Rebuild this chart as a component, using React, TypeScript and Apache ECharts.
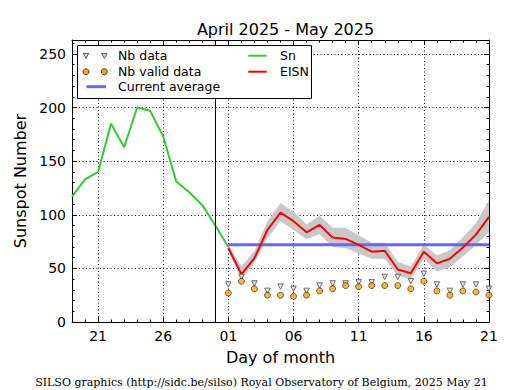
import React, { useEffect, useRef } from "react";
import * as echarts from "echarts";

// ---------- data ----------
const days = [
  "04-19", "04-20", "04-21", "04-22", "04-23", "04-24", "04-25", "04-26", "04-27", "04-28", "04-29", "04-30",
  "05-01", "05-02", "05-03", "05-04", "05-05", "05-06", "05-07", "05-08", "05-09", "05-10", "05-11",
  "05-12", "05-13", "05-14", "05-15", "05-16", "05-17", "05-18", "05-19", "05-20", "05-21",
];
const majorTickDays = ["04-21", "04-26", "05-01", "05-06", "05-11", "05-16", "05-21"];
const separatorDay = "04-30";

// Sn: 04-19 .. 05-01
const snStart = "04-19";
const snValues = [117, 133, 140, 185, 163, 200, 197, 173, 131, 121, 109, 90, 70];

// EISN & counts: 05-01 .. 05-21
const eisnStart = "05-01";
const eisnValues = [69, 44.5, 59.5, 86, 102, 94, 83.7, 90.5, 78.7, 77.5, 72, 65.6, 66.5, 49, 45.4, 65.6, 54.7, 59, 69.5, 81.5, 98];
const eisnLower = [66, 40, 55, 78, 94, 86, 77, 82, 70, 69, 64, 59, 59, 43, 40, 59, 47, 51, 61, 72, 84];
const eisnUpper = [72, 52, 66, 94, 111, 103, 91, 99, 88, 88, 81, 74, 74, 56, 52, 72, 62, 67, 79, 92, 114];
const nbData = [35, 42, 36, 29, 33, 31, 29, 34, 36, 36, 37, 37, 42, 42, 38, 45, 35, 29, 35, 35, 31];
const nbValidData = [27, 38, 31, 25, 25, 24, 25, 29, 31, 34, 33, 34, 34, 34, 31, 38, 29, 25, 29, 28, 25];
const currentAverage = 72;

const yMax = 263;
const yInterval = 50;

const titleText = "April 2025 - May 2025";
const footerText = "SILSO graphics (http://sidc.be/silso) Royal Observatory of Belgium, 2025 May 21";

// ---------- helpers ----------
const FONT = "DejaVu Sans";
const align = (values: (number | null)[], start: string) => {
  const off = days.indexOf(start);
  return days.map((_, i) => {
    const k = i - off;
    return k >= 0 && k < values.length ? values[k] : null;
  });
};
const isMajor = (_i: number, v: string) => majorTickDays.includes(v);
const dayLabel = (v: string) => v.slice(3);

const bandSpan = eisnUpper.map((u, i) => u - eisnLower[i]);
const avgValues = eisnValues.map(() => currentAverage);

const dotted = { color: "#000", type: [1, 2.5] as number[], width: 1 };

function buildOption(): any {
  const xMajor = (pos: "bottom" | "top", labels: boolean) => ({
    type: "category",
    data: days,
    boundaryGap: false,
    position: pos,
    axisLine: { show: true, onZero: false, lineStyle: { color: "#000", width: 1 } },
    axisTick: { show: true, inside: true, length: 5, interval: isMajor, lineStyle: { color: "#000", width: 1 } },
    axisLabel: labels
      ? { show: true, interval: isMajor, formatter: dayLabel, color: "#000", fontSize: 14, fontFamily: FONT, margin: 7 }
      : { show: false },
    splitLine: labels ? { show: true, interval: isMajor, lineStyle: dotted } : { show: false },
    ...(labels
      ? {
          name: "Day of month",
          nameLocation: "middle",
          nameGap: 27,
          nameTextStyle: { color: "#000", fontSize: 16, fontFamily: FONT },
        }
      : {}),
  });
  const xMinor = (pos: "bottom" | "top") => ({
    type: "category",
    data: days,
    boundaryGap: false,
    position: pos,
    axisLine: { show: false, onZero: false },
    axisTick: { show: true, inside: true, length: 2.5, interval: 0, lineStyle: { color: "#000", width: 1 } },
    axisLabel: { show: false },
    splitLine: { show: false },
  });
  const yAx = (pos: "left" | "right", labels: boolean) => ({
    type: "value",
    min: 0,
    max: yMax,
    interval: yInterval,
    position: pos,
    axisLine: { show: true, onZero: false, lineStyle: { color: "#000", width: 1 } },
    axisTick: { show: true, inside: true, length: 5, lineStyle: { color: "#000", width: 1 } },
    minorTick: { show: true, splitNumber: 5, length: 2.5, lineStyle: { color: "#000", width: 1 } },
    axisLabel: labels
      ? {
          show: true,
          color: "#000",
          fontSize: 14,
          fontFamily: FONT,
          margin: 6,
          formatter: (v: number) => (v % yInterval === 0 ? String(v) : ""),
        }
      : { show: false },
    splitLine: labels ? { show: true, lineStyle: dotted } : { show: false },
    minorSplitLine: { show: false },
    ...(labels
      ? {
          name: "Sunspot Number",
          nameLocation: "middle",
          nameGap: 44,
          nameTextStyle: { color: "#000", fontSize: 16, fontFamily: FONT },
        }
      : {}),
  });

  const legendFont = { fontSize: 12.5, fontFamily: FONT, fill: "#000" };
  const tri = (cx: number, cy: number) => ({
    type: "polygon",
    shape: { points: [[cx - 2.7, cy - 2.3], [cx + 2.7, cy - 2.3], [cx, cy + 2.7]] },
    style: { fill: "#dddddd", stroke: "#555", lineWidth: 1 },
    z: 101,
  });
  const dot = (cx: number, cy: number) => ({
    type: "circle",
    shape: { cx, cy, r: 3 },
    style: { fill: "#ffa500", stroke: "#000", lineWidth: 0.7 },
    z: 101,
  });
  const seg = (x1: number, x2: number, y: number, color: string, w: number) => ({
    type: "line",
    shape: { x1, y1: y, x2, y2: y },
    style: { stroke: color, lineWidth: w },
    z: 101,
  });
  const txt = (x: number, y: number, text: string) => ({
    type: "text",
    x,
    y,
    style: { text, ...legendFont, verticalAlign: "middle", align: "left" },
    z: 101,
  });

  return {
    animation: false,
    backgroundColor: "#fff",
    title: {
      text: titleText,
      left: 280.5,
      textAlign: "center",
      top: 16,
      textStyle: { color: "#000", fontSize: 16, fontWeight: "normal", fontFamily: FONT },
    },
    grid: { left: 72, right: 26, top: 40, bottom: 68, containLabel: false, outerBoundsMode: "none" },
    xAxis: [xMajor("bottom", true), xMinor("bottom"), xMajor("top", false), xMinor("top")],
    yAxis: [yAx("left", true), yAx("right", false)],
    series: [
      {
        name: "band-lower",
        type: "line",
        data: align(eisnLower, eisnStart),
        stack: "band",
        symbol: "none",
        lineStyle: { opacity: 0 },
        silent: true,
        z: 2,
      },
      {
        name: "band",
        type: "line",
        data: align(bandSpan, eisnStart),
        stack: "band",
        symbol: "none",
        lineStyle: { opacity: 0 },
        areaStyle: { color: "#c8c8c8", opacity: 1 },
        silent: true,
        z: 2,
      },
      {
        name: "Sn",
        type: "line",
        data: align(snValues, snStart),
        symbol: "none",
        lineStyle: { color: "#33cc33", width: 2 },
        z: 3,
        markLine: {
          silent: true,
          symbol: ["none", "none"],
          label: { show: false },
          lineStyle: { color: "#000", type: "solid", width: 1 },
          data: [{ xAxis: separatorDay }],
        },
      },
      {
        name: "Current average",
        type: "line",
        data: align(avgValues, eisnStart),
        symbol: "none",
        lineStyle: { color: "#6666ff", width: 3 },
        z: 4,
      },
      {
        name: "EISN",
        type: "line",
        data: align(eisnValues, eisnStart),
        symbol: "none",
        lineStyle: { color: "#ff0000", width: 2 },
        z: 5,
      },
      {
        name: "Nb data",
        type: "scatter",
        data: align(nbData, eisnStart),
        symbol: "triangle",
        symbolRotate: 180,
        symbolSize: 5.5,
        itemStyle: { color: "#dddddd", borderColor: "#555", borderWidth: 1 },
        z: 6,
      },
      {
        name: "Nb valid data",
        type: "scatter",
        data: align(nbValidData, eisnStart),
        symbol: "circle",
        symbolSize: 6,
        itemStyle: { color: "#ffa500", borderColor: "#000", borderWidth: 0.7 },
        z: 7,
      },
    ],
    graphic: [
      {
        type: "rect",
        shape: { x: 77.5, y: 45.5, width: 234, height: 53 },
        style: { fill: "#fff", stroke: "#000", lineWidth: 1 },
        z: 100,
      },
      tri(86, 55.7),
      tri(104.3, 55.7),
      txt(118, 55.7, "Nb data"),
      dot(86, 71.7),
      dot(104.3, 71.7),
      txt(118, 71.7, "Nb valid data"),
      seg(86.5, 106, 86.7, "#6666ff", 3),
      txt(118, 86.7, "Current average"),
      seg(248.3, 266.7, 55.7, "#33cc33", 2),
      txt(280, 55.7, "Sn"),
      seg(248.3, 266.7, 71.7, "#ff0000", 2),
      txt(280, 71.7, "EISN"),
      {
        type: "text",
        x: 261.5,
        y: 382,
        style: {
          text: footerText,
          fontSize: 11,
          fontFamily: "DejaVu Serif",
          fill: "#000",
          align: "center",
          verticalAlign: "middle",
        },
        z: 100,
      },
    ],
  };
}

export default function App() {
  const ref = useRef<HTMLDivElement>(null);
  useEffect(() => {
    if (!ref.current) return;
    const chart = echarts.init(ref.current, null, { renderer: "svg" });
    chart.setOption(buildOption());
    return () => chart.dispose();
  }, []);
  return (
    <div
      ref={ref}
      style={{ position: "fixed", left: 0, top: 0, width: 515, height: 390, background: "#fff" }}
    />
  );
}
